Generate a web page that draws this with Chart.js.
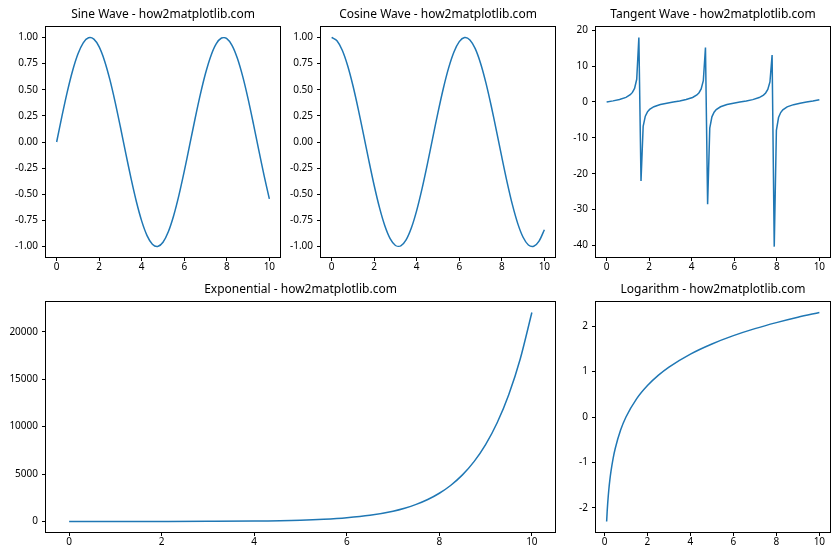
<!DOCTYPE html>
<html>
<head>
<meta charset="utf-8">
<script src="https://cdn.jsdelivr.net/npm/chart.js@4.4.1/dist/chart.umd.min.js"></script>
<style>
  html, body { margin: 0; padding: 0; background: #fff; }
  body { width: 840px; height: 560px; position: relative; overflow: hidden; }
  .panel { position: absolute; }
</style>
</head>
<body>
<div class="panel" id="pSine"><canvas id="chartSine"></canvas></div>
<div class="panel" id="pCosine"><canvas id="chartCosine"></canvas></div>
<div class="panel" id="pTangent"><canvas id="chartTangent"></canvas></div>
<div class="panel" id="pExp"><canvas id="chartExp"></canvas></div>
<div class="panel" id="pLog"><canvas id="chartLog"></canvas></div>
<script>
// Sine / cosine samples
const waveX = [0, 0.25, 0.5, 0.75, 1, 1.25, 1.5, 1.75, 2, 2.25, 2.5, 2.75, 3, 3.25, 3.5, 3.75, 4, 4.25, 4.5, 4.75,
    5, 5.25, 5.5, 5.75, 6, 6.25, 6.5, 6.75, 7, 7.25, 7.5, 7.75, 8, 8.25, 8.5, 8.75, 9, 9.25, 9.5, 9.75, 10];
const sineY = [0, 0.2474, 0.4794, 0.6816, 0.8415, 0.9490, 0.9975, 0.9840, 0.9093, 0.7781, 0.5985, 0.3817, 0.1411,
    -0.1082, -0.3508, -0.5716, -0.7568, -0.8950, -0.9775, -0.9993, -0.9589, -0.8589, -0.7055, -0.5083, -0.2794,
    -0.0332, 0.2151, 0.4500, 0.6570, 0.8232, 0.9380, 0.9946, 0.9894, 0.9226, 0.7985, 0.6248, 0.4121, 0.1739,
    -0.0752, -0.3195, -0.5440];
const cosineY = [1, 0.9689, 0.8776, 0.7317, 0.5403, 0.3153, 0.0707, -0.1782, -0.4161, -0.6282, -0.8011, -0.9243,
    -0.9900, -0.9941, -0.9365, -0.8206, -0.6536, -0.4461, -0.2108, 0.0376, 0.2837, 0.5122, 0.7087, 0.8612, 0.9602,
    0.9994, 0.9766, 0.8930, 0.7539, 0.5679, 0.3466, 0.1037, -0.1455, -0.3857, -0.6020, -0.7807, -0.9111, -0.9848,
    -0.9972, -0.9476, -0.8391];

// Tangent samples (spikes around the asymptotes)
const tangentX = [0, 0.303, 0.606, 0.909, 1.111, 1.212, 1.313, 1.414, 1.515, 1.616, 1.717, 1.818, 1.919, 2.020,
    2.222, 2.525, 2.828, 3.131, 3.434, 3.737, 4.040, 4.242, 4.343, 4.444, 4.545, 4.646, 4.747, 4.848, 4.949, 5.051,
    5.152, 5.354, 5.657, 5.960, 6.263, 6.566, 6.869, 7.172, 7.374, 7.475, 7.576, 7.677, 7.778, 7.879, 7.980, 8.081,
    8.182, 8.283, 8.485, 8.788, 9.091, 9.394, 9.697, 10];
const tangentY = [0, 0.313, 0.693, 1.284, 2.019, 2.664, 3.796, 6.33, 17.96, -22.03, -6.78, -3.961, -2.746, -2.073,
    -1.31, -0.708, -0.324, -0.010, 0.301, 0.678, 1.257, 1.969, 2.583, 3.641, 5.935, 15.15, -28.48, -7.30, -4.139,
    -2.839, -2.129, -1.340, -0.724, -0.336, -0.021, 0.290, 0.663, 1.230, 1.920, 2.506, 3.500, 5.585, 13.10, -40.31,
    -7.905, -4.333, -2.937, -2.187, -1.369, -0.740, -0.347, -0.031, 0.279, 0.648];

// Exponential samples
const expX = [0, 1, 2, 3, 4, 5, 5.5, 6, 6.5, 7, 7.25, 7.5, 7.75, 8, 8.25, 8.5, 8.75, 9, 9.25, 9.5, 9.75, 10];
const expY = [1, 2.718, 7.389, 20.09, 54.6, 148.4, 244.7, 403.4, 665.1, 1096.6, 1408.1, 1808.0, 2321.6, 2981.0,
    3827.6, 4914.8, 6310.7, 8103.1, 10404.6, 13359.7, 17154.2, 22026.5];

// Logarithm samples
const logX = [0.1, 0.125, 0.15, 0.2, 0.25, 0.3, 0.4, 0.5, 0.75, 1, 1.5, 2, 2.5, 3, 4, 5, 6, 7, 8, 9, 10];
const logY = [-2.303, -2.079, -1.897, -1.609, -1.386, -1.204, -0.916, -0.693, -0.288, 0, 0.405, 0.693, 0.916,
    1.099, 1.386, 1.609, 1.792, 1.946, 2.079, 2.197, 2.303];

// Tick values
const xTicks = [0, 2, 4, 6, 8, 10];
const waveYTicks = [-1, -0.75, -0.5, -0.25, 0, 0.25, 0.5, 0.75, 1];
const tangentYTicks = [-40, -30, -20, -10, 0, 10, 20];
const expYTicks = [0, 5000, 10000, 15000, 20000];
const logYTicks = [-2, -1, 0, 1, 2];

const FONT = "'Noto Sans', 'DejaVu Sans', sans-serif";
const LINE_COLOR = '#1f77b4';
const Y_AXIS_W = 44;
const X_AXIS_H = 24;
const TITLE_H = 24;
const PAD_R = 12;

// draws the four spines round the plot area
const framePlugin = {
    id: 'frame',
    afterDraw(chart) {
        const { ctx, chartArea: a } = chart;
        ctx.save();
        ctx.strokeStyle = '#000';
        ctx.lineWidth = 1;
        const l = Math.round(a.left) - 0.5, t = Math.round(a.top) - 0.5;
        const r = Math.round(a.right) + 0.5, b = Math.round(a.bottom) + 0.5;
        ctx.strokeRect(l, t, r - l, b - t);
        ctx.restore();
    }
};

function makePanel(panelId, canvasId, box, title, xs, ys, xRange, yRange, yTicks, fmt, curve) {
    const panel = document.getElementById(panelId);
    panel.style.left = (box.left - Y_AXIS_W) + 'px';
    panel.style.top = (box.top - TITLE_H) + 'px';
    panel.style.width = (box.right - box.left + Y_AXIS_W + PAD_R) + 'px';
    panel.style.height = (TITLE_H + box.bottom - box.top + X_AXIS_H) + 'px';

    const tickFont = { family: FONT, size: 10 };
    new Chart(document.getElementById(canvasId), {
        type: 'line',
        data: {
            datasets: [{
                data: xs.map((x, i) => ({ x: x, y: ys[i] })),
                borderColor: LINE_COLOR,
                borderWidth: 1.5,
                pointRadius: 0,
                tension: curve.tension || 0,
                cubicInterpolationMode: curve.mode || 'default'
            }]
        },
        options: {
            responsive: true,
            maintainAspectRatio: false,
            animation: false,
            layout: { padding: { right: PAD_R } },
            plugins: {
                legend: { display: false },
                tooltip: { enabled: false },
                title: {
                    display: true,
                    text: title,
                    fullSize: false,
                    color: '#000',
                    font: { family: FONT, size: 12, weight: 'normal', lineHeight: 1.25 },
                    padding: { top: 4, bottom: 5 }
                }
            },
            scales: {
                x: {
                    type: 'linear',
                    min: xRange[0],
                    max: xRange[1],
                    afterBuildTicks: s => { s.ticks = xTicks.map(v => ({ value: v })); },
                    afterFit: s => { s.height = X_AXIS_H; },
                    grid: { drawOnChartArea: false, tickLength: 4, tickColor: '#000' },
                    border: { display: false },
                    ticks: { padding: 0, color: '#000', font: tickFont, maxRotation: 0, autoSkip: false,
                        callback: v => String(v) }
                },
                y: {
                    type: 'linear',
                    min: yRange[0],
                    max: yRange[1],
                    afterBuildTicks: s => { s.ticks = yTicks.map(v => ({ value: v })); },
                    afterFit: s => { s.width = Y_AXIS_W; },
                    grid: { drawOnChartArea: false, tickLength: 4, tickColor: '#000' },
                    border: { display: false },
                    ticks: { padding: 4, color: '#000', font: tickFont, autoSkip: false, callback: fmt }
                }
            }
        },
        plugins: [framePlugin]
    });
}

const fmtWave = v => v.toFixed(2);
const fmtPlain = v => String(v);

makePanel('pSine', 'chartSine', { left: 46, top: 27, right: 280, bottom: 257 },
    'Sine Wave - how2matplotlib.com', waveX, sineY, [-0.5, 10.5], [-1.1, 1.1], waveYTicks, fmtWave, { tension: 0.3 });
makePanel('pCosine', 'chartCosine', { left: 321, top: 27, right: 555, bottom: 257 },
    'Cosine Wave - how2matplotlib.com', waveX, cosineY, [-0.5, 10.5], [-1.1, 1.1], waveYTicks, fmtWave, { tension: 0.3 });
makePanel('pTangent', 'chartTangent', { left: 596, top: 27, right: 830, bottom: 257 },
    'Tangent Wave - how2matplotlib.com', tangentX, tangentY, [-0.5, 10.5], [-43.2, 20.9], tangentYTicks, fmtPlain, {});
makePanel('pExp', 'chartExp', { left: 46, top: 302, right: 555, bottom: 532 },
    'Exponential - how2matplotlib.com', expX, expY, [-0.5, 10.5], [-1100, 23127], expYTicks, fmtPlain, { mode: 'monotone' });
makePanel('pLog', 'chartLog', { left: 596, top: 302, right: 830, bottom: 532 },
    'Logarithm - how2matplotlib.com', logX, logY, [-0.395, 10.495], [-2.533, 2.533], logYTicks, fmtPlain, { mode: 'monotone' });
</script>
</body>
</html>
